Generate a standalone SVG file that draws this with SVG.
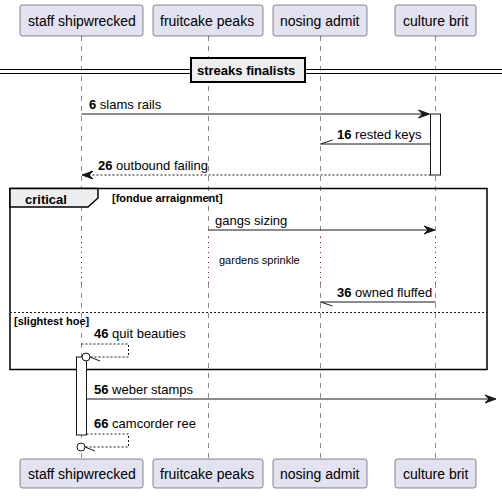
<svg xmlns="http://www.w3.org/2000/svg" width="502" height="496" viewBox="0 0 502 496">
<style>
text{font-family:"Liberation Sans",Arial,sans-serif;fill:#000}
.pbox{fill:#E2E2F0;stroke:#181818;stroke-width:0.5}
.pt{font-size:14px}
.life{stroke:#181818;stroke-width:0.5;stroke-dasharray:5,5;fill:none}
.delay{stroke:#A80036;stroke-width:1;stroke-dasharray:1,4;fill:none}
.msg{stroke:#181818;stroke-width:1;fill:none}
.dash{stroke:#181818;stroke-width:1;stroke-dasharray:2,2;fill:none}
.mt{font-size:13px}
.b{font-weight:bold}
.act{fill:#FFFFFF;stroke:#181818;stroke-width:1}
.head{fill:#181818;stroke:#181818;stroke-width:1}
</style>
<rect width="502" height="496" fill="#FFFFFF"/>
<g id="lifelines">
<path class="life" d="M81.5,36V237M81.5,283V459M208.5,36V237M208.5,283V459M320.5,36V237M320.5,283V459M435.5,36V237M435.5,283V459"/>
<path class="delay" d="M81.5,237V283M208.5,237V283M320.5,237V283M435.5,237V283"/>
</g>
<g id="p-staff-top"><rect class="pbox" x="20" y="5" width="123" height="31" rx="2.5"/><text class="pt" x="28" y="26">staff shipwrecked</text></g>
<g id="p-fruit-top"><rect class="pbox" x="153" y="5" width="110" height="31" rx="2.5"/><text class="pt" x="160" y="26">fruitcake peaks</text></g>
<g id="p-nosing-top"><rect class="pbox" x="273" y="5" width="94" height="31" rx="2.5"/><text class="pt" x="280" y="26">nosing admit</text></g>
<g id="p-culture-top"><rect class="pbox" x="395" y="5" width="81" height="31" rx="2.5"/><text class="pt" x="403" y="26">culture brit</text></g>
<g id="p-staff-bot"><rect class="pbox" x="20" y="459" width="123" height="29" rx="2.5"/><text class="pt" x="28" y="479">staff shipwrecked</text></g>
<g id="p-fruit-bot"><rect class="pbox" x="153" y="459" width="110" height="29" rx="2.5"/><text class="pt" x="160" y="479">fruitcake peaks</text></g>
<g id="p-nosing-bot"><rect class="pbox" x="273" y="459" width="94" height="29" rx="2.5"/><text class="pt" x="280" y="479">nosing admit</text></g>
<g id="p-culture-bot"><rect class="pbox" x="395" y="459" width="81" height="29" rx="2.5"/><text class="pt" x="403" y="479">culture brit</text></g>
<g id="divider">
<line x1="0" y1="69.5" x2="502" y2="69.5" stroke="#000" stroke-width="1"/>
<line x1="0" y1="73.5" x2="502" y2="73.5" stroke="#000" stroke-width="1"/>
<rect x="191" y="58" width="114" height="24" fill="#EEEEEE" stroke="#000" stroke-width="2"/>
<text class="mt b" x="197" y="75">streaks finalists</text>
</g>
<g id="group-critical">
<rect x="10" y="188.5" width="477" height="181" fill="none" stroke="#000" stroke-width="1.5"/>
<path d="M10,188.5H98V198L88,207H10Z" fill="#EEEEEE" stroke="#000" stroke-width="1.5"/>
<text class="mt b" x="25" y="204">critical</text>
<text class="b" font-size="11" x="112" y="202">[fondue arraignment]</text>
<line class="dash" x1="10" y1="312.5" x2="487" y2="312.5" stroke-width="1"/>
<text class="b" font-size="11" x="14" y="325">[slightest hoe]</text>
<text font-size="11" x="219" y="264">gardens sprinkle</text>
</g>
<g id="activations">
<rect class="act" x="430.5" y="114" width="10" height="61"/>
<rect class="act" x="76.5" y="357" width="10" height="78"/>
</g>
<g id="connectors">
<line class="msg" x1="81.5" y1="114" x2="429" y2="114"/>
<polygon class="head" points="418.5,110 429.5,114 418.5,118 422.5,114"/>
<text class="mt" x="89" y="109"><tspan class="b">6</tspan> slams rails</text>

<line class="msg" x1="430.5" y1="144" x2="320.5" y2="144"/>
<line class="msg" x1="320.5" y1="144" x2="332.5" y2="140"/>
<text class="mt" x="337" y="139"><tspan class="b">16</tspan> rested keys</text>

<line class="dash" x1="430.5" y1="175" x2="83" y2="175"/>
<polygon class="head" points="93,171 82,175 93,179 89,175"/>
<text class="mt" x="98" y="170"><tspan class="b">26</tspan> outbound failing</text>

<line class="msg" x1="208.5" y1="230" x2="434" y2="230"/>
<polygon class="head" points="424,226 435,230 424,234 428,230"/>
<text class="mt" x="215" y="225">gangs sizing</text>

<line class="msg" x1="435.5" y1="302" x2="320.5" y2="302"/>
<line class="msg" x1="320.5" y1="302" x2="332.5" y2="306"/>
<text class="mt" x="337" y="297"><tspan class="b">36</tspan> owned fluffed</text>

<polyline class="dash" points="81.5,344 128.5,344 128.5,357 90,357"/>
<circle cx="86" cy="357" r="4" fill="#FFFFFF" stroke="#181818" stroke-width="1"/>
<line class="msg" x1="90" y1="357" x2="100" y2="361"/>
<text class="mt" x="94" y="338"><tspan class="b">46</tspan> quit beauties</text>

<line class="msg" x1="86.5" y1="399" x2="495" y2="399"/>
<polygon class="head" points="485,395 496,399 485,403 489,399"/>
<text class="mt" x="94" y="394"><tspan class="b">56</tspan> weber stamps</text>

<polyline class="dash" points="86.5,434 128.5,434 128.5,447 85,447"/>
<circle cx="81" cy="447" r="4" fill="#FFFFFF" stroke="#181818" stroke-width="1"/>
<line class="msg" x1="85" y1="447" x2="95" y2="451"/>
<text class="mt" x="94" y="428"><tspan class="b">66</tspan> camcorder ree</text>
</g>
</svg>
